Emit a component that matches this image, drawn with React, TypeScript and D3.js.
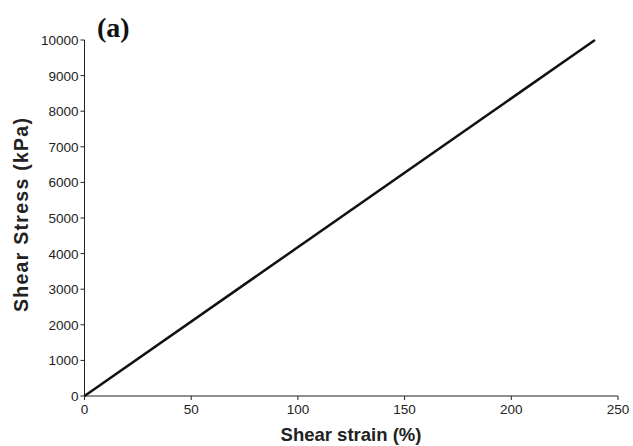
import React from "react";
import * as d3 from "d3";

const xTicks = [0, 50, 100, 150, 200, 250];
const yTicks = [0, 1000, 2000, 3000, 4000, 5000, 6000, 7000, 8000, 9000, 10000];
const strain = [0, 239.2];
const stress = [0, 10000];

export default function App() {
  const W = 633, H = 446;
  const x = d3.scaleLinear().domain([0, 250]).range([84.5, 618]);
  const y = d3.scaleLinear().domain([0, 10000]).range([396, 40]);
  const pts = strain.map((s, i) => [s, stress[i]] as [number, number]);
  const line = d3.line<[number, number]>().x(d => x(d[0])).y(d => y(d[1]));
  return (
    <svg width={W} height={H} style={{ position: "absolute", left: 0, top: 0, background: "#fff" }}>
      <rect width={W} height={H} fill="#fff" />
      <g fontFamily="Liberation Sans, Arial, sans-serif" fill="#222">
        <line x1={x(0)} x2={x(250)} y1={y(0)} y2={y(0)} stroke="#222" strokeWidth={1} />
        <line x1={x(0)} x2={x(0)} y1={y(0)} y2={y(10000)} stroke="#222" strokeWidth={1} />
        {xTicks.map(t => (
          <g key={"x" + t}>
            <line x1={x(t)} x2={x(t)} y1={y(0)} y2={y(0) + 4} stroke="#222" />
            <text x={x(t)} y={y(0) + 18} textAnchor="middle" fontSize={13.5}>{t}</text>
          </g>
        ))}
        {yTicks.map(t => (
          <g key={"y" + t}>
            <line x1={x(0) - 4} x2={x(0)} y1={y(t)} y2={y(t)} stroke="#222" />
            <text x={x(0) - 6} y={y(t) + 5} textAnchor="end" fontSize={13.5}>{t}</text>
          </g>
        ))}
        <text x={351} y={441} textAnchor="middle" fontSize={18.5} fontWeight="bold">Shear strain (%)</text>
        <text transform={`translate(28,215) rotate(-90)`} textAnchor="middle" fontSize={19.5} fontWeight="bold" textLength={194} lengthAdjust="spacing">Shear Stress (kPa)</text>
      </g>
      <path d={line(pts) || ""} fill="none" stroke="#111" strokeWidth={2.5} />
      <text x={97} y={37} fontFamily="Liberation Serif, Times New Roman, serif" fontWeight="bold" fontSize={28} fill="#111">(a)</text>
    </svg>
  );
}
